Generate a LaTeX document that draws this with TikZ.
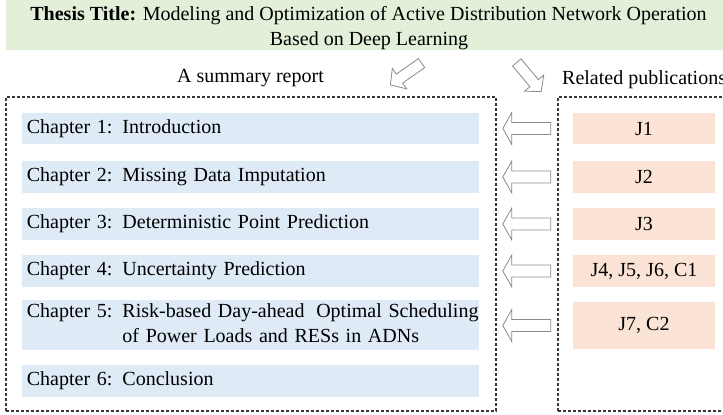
\documentclass[tikz,border=0pt]{standalone}
\usepackage{fontspec}
\setmainfont{Liberation Serif}
\usetikzlibrary{calc}

\definecolor{titlegreen}{HTML}{E2EFD9}
\definecolor{chapblue}{HTML}{DEEAF6}
\definecolor{puborange}{HTML}{FBE4D5}
\definecolor{arrowgray}{HTML}{8A8A8A}
\definecolor{dashgray}{HTML}{383838}

% chapter label and title, with the title column aligned for every chapter
\newcommand\chaptext[2]{\begin{tabular}{@{}l@{\hspace{10pt}}l@{}}#1 & #2\end{tabular}}

\tikzset{
  x=1pt, y=1pt,
  every node/.style={font=\fontsize{20}{25}\selectfont},
  chapbox/.style={fill=chapblue, anchor=west, text width=447.6pt, inner xsep=4.7pt,
                  inner ysep=0pt, minimum height=31.5pt, align=left},
  pubbox/.style={fill=puborange, minimum width=142pt, inner sep=0pt,
                 minimum height=31.5pt, align=center},
  dashbox/.style={draw=dashgray, line width=1.5pt, dash pattern=on 3pt off 2pt,
                  inner sep=0pt},
  arrowline/.style={draw=arrowgray, line width=0.8pt, fill=white, line join=miter},
  % hollow block arrow pointing towards -x, centred on the origin
  larrow/.pic={\path[arrowline] (24,6) -- (-15,6) -- (-15,16) -- (-24,0)
                 -- (-15,-16) -- (-15,-6) -- (24,-6) -- cycle;},
  sarrow/.pic={\path[arrowline] (19,5.5) -- (-8,5.5) -- (-8,12.5) -- (-19,0)
                 -- (-8,-12.5) -- (-8,-5.5) -- (19,-5.5) -- cycle;},
}

\begin{document}
\begin{tikzpicture}
\useasboundingbox (0,0) rectangle (723,415);
\clip (0,0) rectangle (723,415);

% title banner
\node (titlebox) [fill=titlegreen, minimum width=760pt, minimum height=60pt,
  anchor=south west, inner sep=0pt] at (6,364.3) {};
\node (title1) [anchor=base] at (368.5,394)
  {\textbf{Thesis Title:} Modeling and Optimization of Active Distribution Network Operation};
\node (title2) [anchor=base] at (369,369) {Based on Deep Learning};

% branch labels
\node (summary) [anchor=base] at (250.5,332) {A summary report};
\node (related) [anchor=base west, inner xsep=0pt] at (562,330) {Related publications};
\pic[rotate=35] at (406,341) {sarrow};
\pic[rotate=130] at (529,338) {sarrow};

% dashed frames
\node (leftframe) [dashbox, minimum width=490pt, minimum height=314pt,
  anchor=south west] at (5,3) {};
\node (rightframe) [dashbox, minimum width=220pt, minimum height=314pt,
  anchor=south west] at (557,3) {};

% chapters
\node (c1) [chapbox] at (22,286.5) {\chaptext{Chapter 1:}{Introduction}};
\node (c2) [chapbox] at (22,238) {\chaptext{Chapter 2:}{Missing Data Imputation}};
\node (c3) [chapbox] at (22,191) {\chaptext{Chapter 3:}{Deterministic Point Prediction}};
\node (c4) [chapbox] at (22,144) {\chaptext{Chapter 4:}{Uncertainty Prediction}};
\node (c5) [chapbox, minimum height=47pt] at (22,89.5)
  {\chaptext{Chapter 5:}{Risk-based Day-ahead\hspace{5pt} Optimal Scheduling\\ & of Power Loads and RESs in ADNs}};
\node (c6) [chapbox] at (22,34) {\chaptext{Chapter 6:}{Conclusion}};

% publications
\node (j1) [pubbox] at (644,286.5) {J1};
\node (j2) [pubbox] at (644,238) {J2};
\node (j3) [pubbox] at (644,191) {J3};
\node (j4) [pubbox] at (644,144) {J4, J5, J6, C1};
\node (j7) [pubbox, minimum height=47pt] at (644,89.5) {J7, C2};

% arrows from publications to chapters
\foreach \p in {j1,j2,j3,j4,j7}
  \path ($(\p.west)+(-46,0)$) pic {larrow};
\end{tikzpicture}
\end{document}
